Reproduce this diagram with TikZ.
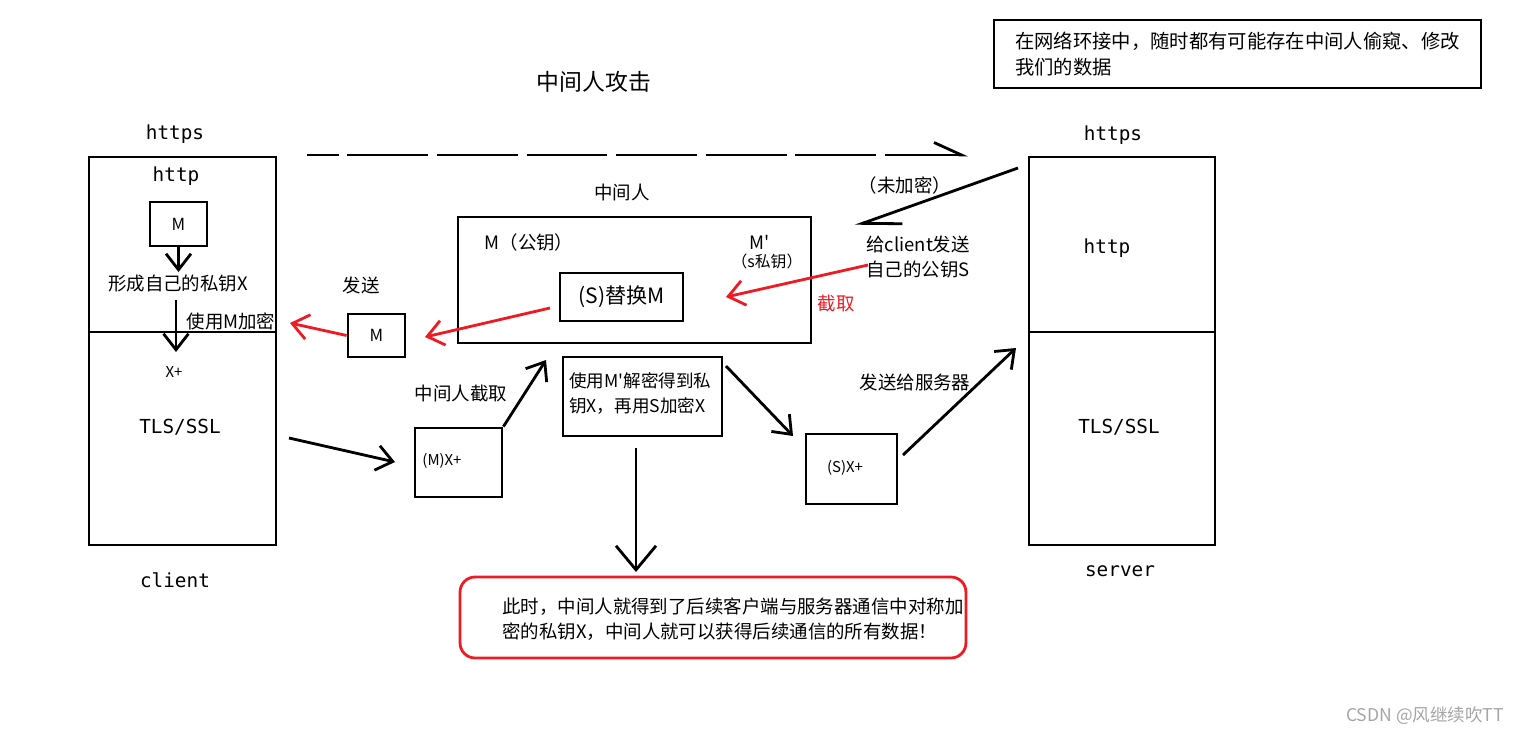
\documentclass[tikz,border=0pt]{standalone}
\usepackage{fontspec}
\setmainfont{Noto Sans CJK SC}
\newfontfamily\monofam{DejaVu Sans Mono}
\usetikzlibrary{arrows.meta}
\definecolor{paintred}{RGB}{237,28,36}
\definecolor{markgray}{RGB}{165,165,165}

\begin{document}
\begin{tikzpicture}[x=0.02cm, y=-0.02cm,
      bx/.style  ={draw, line width=1.6pt, inner sep=0pt},
      tx/.style  ={font=\fontsize{10.5}{14.5}\selectfont, inner sep=0pt},
      sm/.style  ={font=\fontsize{8.5}{10}\selectfont, inner sep=0pt},
      mo/.style  ={font=\monofam\fontsize{11}{13}\selectfont, inner sep=0pt},
      arr/.style ={-{Straight Barb[length=0.32cm,width=0.5cm]}, line width=1.6pt},
      rarr/.style={arr, draw=paintred},
      bigarr/.style={-{Straight Barb[length=0.48cm,width=0.8cm]}, line width=1.6pt},
      harp/.style={-{Straight Barb[left,length=0.55cm,width=0.5cm]}, line width=1.6pt},
      harpb/.style={-{Straight Barb[left,length=0.75cm,width=0.55cm]}, line width=1.6pt}]
    \useasboundingbox (0,0) rectangle (1525,735);

    % ── NOTE + TITLE ────────────────────────────────────────
    \node[bx, minimum width=9.74cm, minimum height=1.36cm, align=left,
          font=\fontsize{11}{14.5}\selectfont] (note) at (1237.5,54)
      {在网络环接中，随时都有可能存在中间人偷窥、修改\\我们的数据};
    \node[tx, font=\fontsize{13}{15}\selectfont] (title) at (594,82) {中间人攻击};

    % ── CLIENT ──────────────────────────────────────────────
    \node[mo] (clihttps) at (175,134) {https};
    \node[bx, minimum width=3.74cm, minimum height=3.5cm]  (clitop) at (182.5,244.5) {};
    \node[bx, minimum width=3.74cm, minimum height=4.26cm] (clibot) at (182.5,438.5) {};
    \node[mo] (clihttp) at (176,176) {http};
    \node[bx, font=\fontsize{9.5}{11}\selectfont, minimum width=1.14cm, minimum height=0.88cm] (mkey) at (178.5,224) {M};
    \coordinate (mkeyend) at (178.5,272);
    \draw[arr] (mkey.south) -- (mkeyend);
    \node[tx] (priv) at (178,284) {形成自己的私钥X};
    \coordinate (encs) at (176,300); \coordinate (ence) at (176,352);
    \draw[arr] (encs) -- (ence);
    \node[tx] (encm) at (231,321) {使用M加密};
    \node[sm] (xplus) at (174,372) {X+};
    \node[mo] (clitls) at (180,427) {TLS/SSL};
    \node[mo] (cliname) at (175,580) {client};

    % ── SEND M back to client ───────────────────────────────
    \node[tx] (send) at (361,285) {发送};
    \node[bx, font=\fontsize{9.5}{11}\selectfont, minimum width=1.14cm, minimum height=0.86cm] (sendm) at (376.5,335.5) {M};
    \coordinate (sendtip) at (290,323);
    \draw[rarr] (sendm.west) -- (sendtip);

    % ── MAN IN THE MIDDLE ───────────────────────────────────
    \node[tx] (mitmlbl) at (622,192) {中间人};
    \node[bx, minimum width=7.06cm, minimum height=2.52cm] (mitm) at (634.5,280) {};
    \node[tx] (pub) at (529,242) {M（公钥）};
    \node[tx] (mprime) at (760,242) {M\textquotesingle};
    \node[tx, font=\fontsize{9}{11}\selectfont] (spriv) at (767,261) {（s私钥）};
    \node[bx, minimum width=2.46cm, minimum height=0.96cm,
          font=\fontsize{12}{14}\selectfont] (swap) at (621.5,297) {(S)替换M};
    \coordinate (swapout) at (550,308); \coordinate (sendin) at (425,337);
    \draw[rarr] (swapout) -- (sendin);
    \coordinate (cuts) at (868,265); \coordinate (cutt) at (726,297);
    \draw[rarr] (cuts) -- (cutt);
    \node[tx, text=paintred] (cut) at (836,303) {截取};

    % ── SERVER ──────────────────────────────────────────────
    \node[mo] (srvhttps) at (1113,135) {https};
    \node[bx, minimum width=3.72cm, minimum height=3.5cm]  (srvtop) at (1122,244.5) {};
    \node[bx, minimum width=3.72cm, minimum height=4.26cm] (srvbot) at (1122,438.5) {};
    \node[mo] (srvhttp) at (1107,248) {http};
    \node[mo] (srvtls) at (1119,427) {TLS/SSL};
    \node[mo] (srvname) at (1120,571) {server};

    % https request (dashed) and the plain public key back
    \coordinate (dashs) at (307,155); \coordinate (dashe) at (968,155);
    \draw[harp, dash pattern=on 46pt off 5pt, dash phase=28pt] (dashs) -- (dashe);
    \coordinate (plains) at (1018,168); \coordinate (plaint) at (855,226);
    \draw[harpb] (plains) -- (plaint);
    \node[tx] (plain) at (905,185) {（未加密）};
    \node[tx, align=left, anchor=west] (givepub) at (866,257) {给client发送\\自己的公钥S};

    % ── LOWER CHAIN ─────────────────────────────────────────
    \node[bx, minimum width=1.74cm, minimum height=1.38cm] (mx) at (458.5,462.5) {};
    \node[sm] (mxlbl) at (442,461) {(M)X+};
    \coordinate (tlsout) at (289,438); \coordinate (mxin) at (395,462);
    \draw[arr] (tlsout) -- (mxin);
    \node[tx] (grab) at (461,393) {中间人截取};
    \coordinate (mitmin) at (546,360);
    \draw[arr] (mx.north east) -- (mitmin);
    \node[bx, minimum width=3.18cm, minimum height=1.58cm] (dec) at (642.5,396.5) {};
    \node[tx, font=\fontsize{10}{14}\selectfont, align=left, anchor=west] (declbl) at (569,393.5)
      {使用M\textquotesingle 解密得到私\\钥X，再用S加密X};
    \coordinate (decout) at (726,366); \coordinate (sxin) at (793,436);
    \draw[arr] (decout) -- (sxin);
    \node[bx, minimum width=1.82cm, minimum height=1.4cm] (sx) at (851.5,469) {};
    \node[sm] (sxlbl) at (845,468) {(S)X+};
    \node[tx] (tosrv) at (915,382) {发送给服务器};
    \coordinate (sxout) at (903,455); \coordinate (srvin) at (1016,348);
    \draw[arr] (sxout) -- (srvin);

    % ── RESULT ──────────────────────────────────────────────
    \node[draw=paintred, line width=1.6pt, rounded corners=0.3cm,
          minimum width=10.12cm, minimum height=1.62cm] (result) at (713,617.5) {};
    \node[tx, align=left, anchor=west] (reslbl) at (502,619)
      {此时，中间人就得到了后续客户端与服务器通信中对称加\\密的私钥X，中间人就可以获得后续通信的所有数据！};
    \coordinate (downs) at (636,448); \coordinate (downe) at (636,572);
    \draw[bigarr] (downs) -- (downe);

    \node[font=\fontsize{10}{12}\selectfont, text=markgray, inner sep=0pt] (mark) at (1425,716)
      {CSDN @风继续吹TT};
\end{tikzpicture}
\end{document}
